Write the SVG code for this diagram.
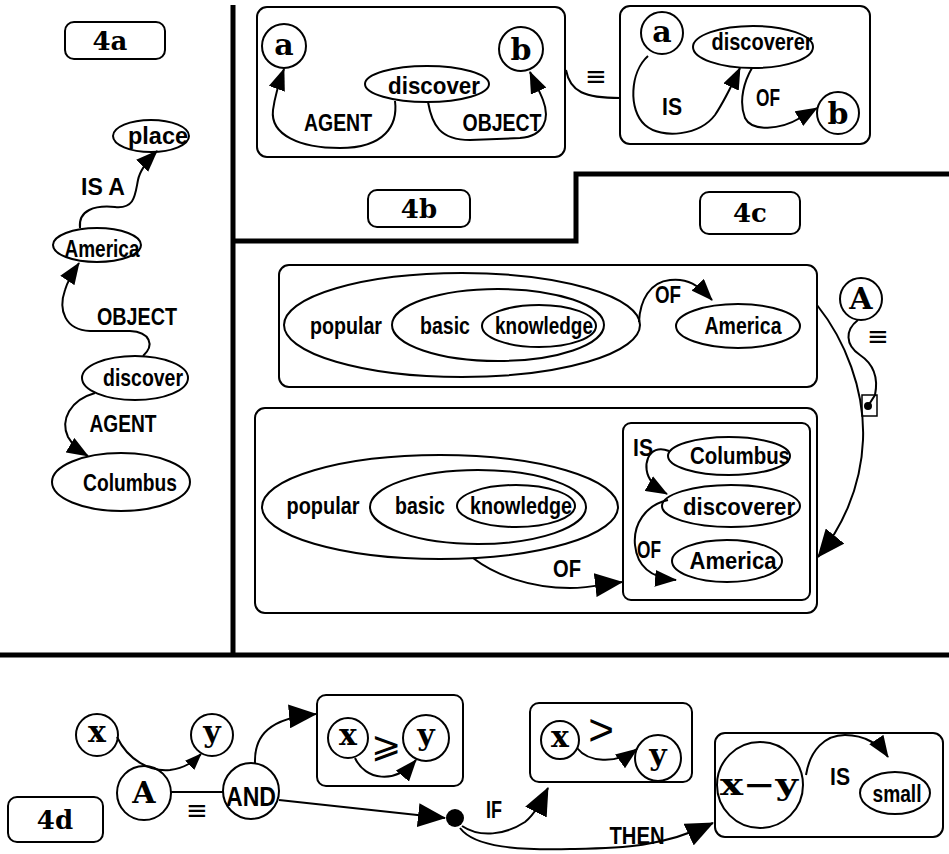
<svg xmlns="http://www.w3.org/2000/svg" width="949" height="854" viewBox="0 0 949 854">
<defs>
<style>
.n{fill:none;stroke:#000;stroke-width:2}
.dv{fill:none;stroke:#000;stroke-width:5}
.c{fill:none;stroke:#000;stroke-width:2}
.t{font-family:"Liberation Sans",Arial,sans-serif;font-weight:bold;font-size:24px;text-anchor:middle;fill:#000}
.s{font-family:"DejaVu Serif","Liberation Serif",serif;font-weight:bold;font-size:30px;text-anchor:middle;fill:#000}
.l{font-family:"DejaVu Serif","Liberation Serif",serif;font-weight:bold;font-size:26px;text-anchor:middle;fill:#000}
.q{font-family:"DejaVu Sans",sans-serif;font-size:26px;text-anchor:middle;fill:#000}
</style>
<marker id="ab" markerUnits="userSpaceOnUse" markerWidth="28" markerHeight="24" refX="27" refY="12" orient="auto"><path d="M0,0 L28,12 L0,24 z"/></marker>
<marker id="am" markerUnits="userSpaceOnUse" markerWidth="22" markerHeight="17" refX="21" refY="8.5" orient="auto"><path d="M0,0 L22,8.5 L0,17 z"/></marker>
<marker id="as" markerUnits="userSpaceOnUse" markerWidth="17" markerHeight="13" refX="16" refY="6.5" orient="auto"><path d="M0,0 L17,6.5 L0,13 z"/></marker>
</defs>
<rect width="949" height="854" fill="#fff"/>
<g id="dividers">
<path class="dv" d="M233,5 L233,655"/>
<path class="dv" d="M0,655 L949,655"/>
<path class="dv" d="M233,241 L576,241 L576,174 L949,174"/>
</g>
<g id="labels">
<rect class="n" x="65" y="22" width="100" height="37" rx="9"/><text class="l" x="110" y="50">4a</text>
<rect class="n" x="368" y="190" width="102" height="37" rx="9"/><text class="l" x="419" y="218">4b</text>
<rect class="n" x="700" y="192" width="100" height="42" rx="9"/><text class="l" x="750" y="222">4c</text>
<rect class="n" x="8" y="797" width="95" height="45" rx="9"/><text class="l" x="55" y="829">4d</text>
</g>
<!-- 4a -->
<g id="a-place"><ellipse class="n" cx="151" cy="136" rx="38" ry="16"/><text class="t" x="158" y="144" textLength="60" lengthAdjust="spacingAndGlyphs">place</text></g>
<g id="a-america"><ellipse class="n" cx="97" cy="245" rx="44" ry="17"/><text class="t" x="102" y="257" textLength="75" lengthAdjust="spacingAndGlyphs">America</text></g>
<g id="a-discover"><ellipse class="n" cx="135" cy="378" rx="53" ry="22"/><text class="t" x="143" y="386" textLength="80" lengthAdjust="spacingAndGlyphs">discover</text></g>
<g id="a-columbus"><ellipse class="n" cx="121" cy="482" rx="69" ry="29"/><text class="t" x="130" y="491" textLength="94" lengthAdjust="spacingAndGlyphs">Columbus</text></g>
<!-- 4b -->
<g id="b-box1"><rect class="n" x="257" y="7" width="308" height="150" rx="10"/></g>
<g id="b-a1"><circle class="n" cx="284" cy="46" r="22"/><text class="s" x="284" y="55">a</text></g>
<g id="b-b1"><circle class="n" cx="521" cy="49" r="22"/><text class="s" x="521" y="60">b</text></g>
<g id="b-discover"><ellipse class="n" cx="427" cy="84" rx="62" ry="18"/><text class="t" x="434" y="94" textLength="92" lengthAdjust="spacingAndGlyphs">discover</text></g>
<g id="b-box2"><rect class="n" x="620" y="6" width="250" height="138" rx="10"/></g>
<g id="b-a2"><circle class="n" cx="662" cy="33" r="21"/><text class="s" x="662" y="42">a</text></g>
<g id="b-b2"><circle class="n" cx="838" cy="113" r="21"/><text class="s" x="838" y="124">b</text></g>
<g id="b-discoverer"><ellipse class="n" cx="753" cy="47" rx="60" ry="21"/><text class="t" x="762" y="50" textLength="101" lengthAdjust="spacingAndGlyphs">discoverer</text></g>
<!-- 4c -->
<g id="c-top"><rect class="n" x="279" y="265" width="538" height="122" rx="10"/></g>
<g id="c-popular1"><ellipse class="n" cx="462" cy="325" rx="178" ry="52"/><text class="t" x="346" y="334" textLength="72" lengthAdjust="spacingAndGlyphs">popular</text></g>
<g id="c-basic1"><ellipse class="n" cx="498" cy="325" rx="106" ry="36"/><text class="t" x="445" y="334" textLength="50" lengthAdjust="spacingAndGlyphs">basic</text></g>
<g id="c-knowledge1"><ellipse class="n" cx="539" cy="326" rx="57" ry="21"/><text class="t" x="544" y="334" textLength="98" lengthAdjust="spacingAndGlyphs">knowledge</text></g>
<g id="c-america1"><ellipse class="n" cx="738" cy="326" rx="62" ry="22"/><text class="t" x="743" y="334" textLength="77" lengthAdjust="spacingAndGlyphs">America</text></g>
<g id="c-A"><circle class="n" cx="861" cy="299" r="21"/><text class="s" x="861" y="309">A</text></g>
<g id="c-port"><rect x="862" y="395" width="15" height="21" fill="none" stroke="#000" stroke-width="1.5"/><circle cx="868" cy="406" r="4"/></g>
<g id="c-bottom"><rect class="n" x="255" y="408" width="562" height="205" rx="10"/></g>
<g id="c-inner"><rect class="n" x="623" y="423" width="187" height="177" rx="8"/></g>
<g id="c-popular2"><ellipse class="n" cx="440" cy="507" rx="178" ry="52"/><text class="t" x="323" y="514" textLength="73" lengthAdjust="spacingAndGlyphs">popular</text></g>
<g id="c-basic2"><ellipse class="n" cx="478" cy="507" rx="108" ry="37"/><text class="t" x="420" y="514" textLength="50" lengthAdjust="spacingAndGlyphs">basic</text></g>
<g id="c-knowledge2"><ellipse class="n" cx="516" cy="506" rx="59" ry="21"/><text class="t" x="521" y="514" textLength="102" lengthAdjust="spacingAndGlyphs">knowledge</text></g>
<g id="c-columbus"><ellipse class="n" cx="729" cy="456" rx="61" ry="19"/><text class="t" x="740" y="464" textLength="100" lengthAdjust="spacingAndGlyphs">Columbus</text></g>
<g id="c-discoverer"><ellipse class="n" cx="731" cy="506" rx="69" ry="21"/><text class="t" x="739" y="515" textLength="112" lengthAdjust="spacingAndGlyphs">discoverer</text></g>
<g id="c-america2"><ellipse class="n" cx="727" cy="561" rx="55" ry="21"/><text class="t" x="733" y="569" textLength="87" lengthAdjust="spacingAndGlyphs">America</text></g>
<!-- 4d -->
<g id="d-x1"><circle class="n" cx="97" cy="735" r="21"/><text class="s" x="97" y="742">x</text></g>
<g id="d-y1"><circle class="n" cx="212" cy="735" r="21"/><text class="s" x="212" y="742">y</text></g>
<g id="d-A"><circle class="n" cx="144" cy="793" r="27"/><text class="s" x="144" y="803">A</text></g>
<g id="d-AND"><circle class="n" cx="251" cy="791" r="28"/><text class="t" x="251" y="806" style="font-size:27px" textLength="50" lengthAdjust="spacingAndGlyphs">AND</text></g>
<g id="d-ge"><rect class="n" x="317" y="695" width="146" height="91" rx="9"/><circle class="n" cx="348" cy="738" r="20"/><text class="s" x="348" y="745">x</text><circle class="n" cx="426" cy="738" r="23"/><text class="s" x="426" y="745">y</text><text class="q" x="386" y="757" style="font-size:36px">⩾</text></g>
<g id="d-gt"><rect class="n" x="530" y="703" width="162" height="79" rx="9"/><circle class="n" cx="560" cy="740" r="19"/><text class="s" x="560" y="747">x</text><circle class="n" cx="658" cy="758" r="23"/><text class="s" x="658" y="765">y</text><text x="601" y="745" style="font-family:'Liberation Sans',Arial,sans-serif;font-size:44px;text-anchor:middle">&gt;</text></g>
<g id="d-small"><rect class="n" x="715" y="733" width="228" height="104" rx="10"/><circle class="n" cx="760" cy="785" r="43"/><text class="s" x="759" y="795" textLength="78" lengthAdjust="spacingAndGlyphs">x−y</text><ellipse class="n" cx="895" cy="793" rx="35" ry="21"/><text class="t" x="897" y="802" textLength="49" lengthAdjust="spacingAndGlyphs">small</text></g>
<g id="d-dot"><circle cx="455" cy="818" r="9"/></g>
<g id="connectors">
<!-- 4a -->
<path class="c" d="M80,228 C78,210 95,205 115,207 C135,209 135,195 138,180 C140,170 148,160 157,151" marker-end="url(#am)"/>
<path class="c" d="M143,356 C155,345 150,332 130,331 L90,331 C65,330 58,310 65,290 C68,280 73,272 79,263" marker-end="url(#am)"/>
<path class="c" d="M95,393 C70,400 60,420 68,437 C72,444 78,450 88,456" marker-end="url(#am)"/>
<!-- 4b -->
<path class="c" d="M395,101 C398,125 385,148 340,148 C300,148 270,135 273,110 C275,95 280,80 284,69" marker-end="url(#am)"/>
<path class="c" d="M428,102 C432,125 440,140 470,140 L520,138 C545,136 550,118 543,100 C540,92 535,83 530,72" marker-end="url(#am)"/>
<path class="c" d="M566,70 C570,92 585,98 620,98"/>
<path class="c" d="M648,56 C630,72 628,110 645,125 C662,140 700,135 715,115 C725,100 732,85 740,68" marker-end="url(#am)"/>
<path class="c" d="M752,68 C745,80 738,100 745,118 C752,132 780,130 800,118 L817,108" marker-end="url(#am)"/>
<!-- 4c -->
<path class="c" d="M639,322 C640,300 650,282 670,280 C688,278 698,285 712,300" marker-end="url(#am)"/>
<path class="c" d="M858,320 C845,330 845,345 860,355 C875,365 878,380 875,395 L868,406"/>
<path class="c" d="M817,305 C845,340 865,390 863,440 C861,490 840,530 818,557" marker-end="url(#ab)"/>
<path class="c" d="M473,558 C495,575 530,588 570,588 C590,588 605,584 622,582" marker-end="url(#ab)"/>
<path class="c" d="M669,451 C648,442 640,468 652,482 C656,487 660,490 667,494" marker-end="url(#am)"/>
<path class="c" d="M668,500 C645,505 633,525 635,545 C637,565 650,578 676,580" marker-end="url(#am)"/>
<!-- 4d -->
<path class="c" d="M171,792 L223,792"/>
<path class="c" d="M117,737 C128,760 150,772 170,770 C185,768 193,762 201,754" marker-end="url(#as)"/>
<path class="c" d="M255,763 C254,735 270,718 316,714" marker-end="url(#ab)"/>
<path class="c" d="M355,758 C365,780 395,785 416,760" marker-end="url(#am)"/>
<path class="c" d="M279,800 L445,818" marker-end="url(#ab)"/>
<path class="c" d="M462,826 C480,838 505,835 525,822 C535,814 542,800 548,788" marker-end="url(#ab)"/>
<path class="c" d="M460,828 C475,848 520,850 570,849 C620,848 660,848 713,823" marker-end="url(#ab)"/>
<path class="c" d="M577,748 C588,762 615,765 637,749" marker-end="url(#am)"/>
<path class="c" d="M806,775 C810,750 825,735 845,735 C865,735 880,745 888,757" marker-end="url(#am)"/>
</g>
<g id="edge-labels">
<text class="t" x="103" y="195" textLength="44" lengthAdjust="spacingAndGlyphs">IS A</text>
<text class="t" x="137" y="325" textLength="80" lengthAdjust="spacingAndGlyphs">OBJECT</text>
<text class="t" x="123" y="432" textLength="67" lengthAdjust="spacingAndGlyphs">AGENT</text>
<text class="t" x="338" y="131" textLength="68" lengthAdjust="spacingAndGlyphs">AGENT</text>
<text class="t" x="502" y="131" textLength="79" lengthAdjust="spacingAndGlyphs">OBJECT</text>
<text class="q" x="596" y="85">≡</text>
<text class="t" x="672" y="115" textLength="20" lengthAdjust="spacingAndGlyphs">IS</text>
<text class="t" x="768" y="106" textLength="24" lengthAdjust="spacingAndGlyphs">OF</text>
<text class="t" x="668" y="303" textLength="26" lengthAdjust="spacingAndGlyphs">OF</text>
<text class="q" x="878" y="345">≡</text>
<text class="t" x="567" y="577" textLength="28" lengthAdjust="spacingAndGlyphs">OF</text>
<text class="t" x="643" y="456" textLength="20" lengthAdjust="spacingAndGlyphs">IS</text>
<text class="t" x="649" y="558" textLength="24" lengthAdjust="spacingAndGlyphs">OF</text>
<text class="q" x="197" y="819">≡</text>
<text class="t" x="494" y="818" textLength="16" lengthAdjust="spacingAndGlyphs">IF</text>
<text class="t" x="637" y="844" textLength="55" lengthAdjust="spacingAndGlyphs">THEN</text>
<text class="t" x="840" y="785" textLength="20" lengthAdjust="spacingAndGlyphs">IS</text>
</g>
</svg>
